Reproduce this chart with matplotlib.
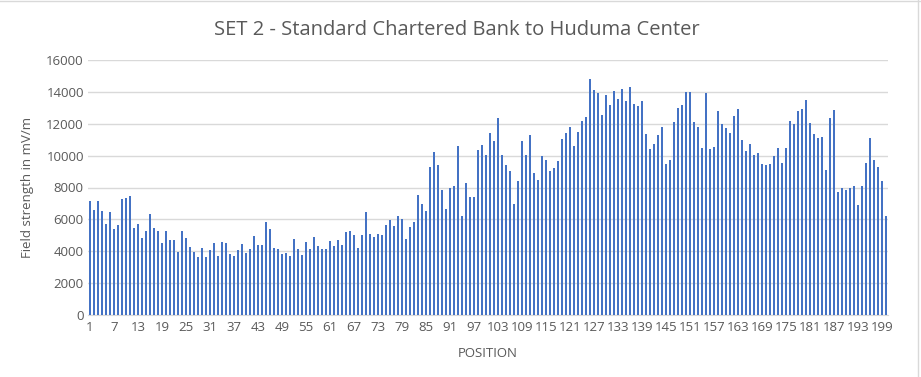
import matplotlib
matplotlib.use("Agg")
import matplotlib.pyplot as plt
from matplotlib.lines import Line2D

positions = list(range(1, 201))
field_strength = [
    7130, 6560, 7130, 6520, 5680, 6460, 5390, 5620, 7250, 7340,
    7480, 5470, 5680, 4820, 5280, 6310, 5470, 5240, 4490, 5240,
    4680, 4680, 3980, 5240, 4840, 4280, 3980, 3670, 4190, 3630,
    4050, 4490, 3730, 4550, 4510, 3840, 3690, 4050, 4440, 3860,
    4110, 4930, 4420, 4380, 5850, 5390, 4210, 4110, 3820, 3900,
    3730, 4760, 4150, 3790, 4550, 4110, 4880, 4300, 4150, 4110,
    4630, 4360, 4680, 4420, 5180, 5280, 4990, 4210, 4990, 6440,
    5090, 4910, 5090, 5050, 5660, 5930, 5600, 6210, 6000, 4800,
    5510, 5850, 7550, 6940, 6500, 9290, 10210, 9430, 7860, 6620,
    7970, 8070, 10590, 6230, 8300, 7400, 7400, 10380, 10650, 10020,
    11400, 10940, 12390, 10020, 9390, 9040, 6940, 8410, 10900, 10020,
    11300, 8930, 8490, 9960, 9750, 9040, 9220, 9660, 11040, 11440,
    11800, 10600, 11500, 12180, 12410, 14820, 14130, 13920, 12550, 13830,
    13180, 14040, 13560, 14170, 13410, 14290, 13220, 13140, 13430, 11340,
    10420, 10730, 11320, 11800, 9490, 9720, 12130, 12990, 13160, 13980,
    13980, 12110, 11780, 10480, 13900, 10390, 10540, 12830, 11990, 11760,
    11400, 12510, 12910, 10980, 10310, 10710, 10060, 10140, 9490, 9410,
    9470, 9970, 10480, 9530, 10480, 12150, 11990, 12830, 12910, 13500,
    12050, 11360, 11090, 11150, 9070, 12360, 12870, 7730, 8000, 7840,
    7960, 8070, 6930, 8090, 9510, 11090, 9720, 9280, 8420, 6240,
]
x_tick_labels = list(range(1, 201, 6))
y_ticks = list(range(0, 16001, 2000))

title = "SET 2 - Standard Chartered Bank to Huduma Center"
x_label = "POSITION"
y_label = "Field strength in mV/m"

plt.rcParams['font.family'] = ['Open Sans', 'DejaVu Sans']
grey = '#595959'

fig = plt.figure(figsize=(9.21, 3.77), dpi=100)
ax = fig.add_axes([88/921, 62/377, 800/921, 255/377])

ax.bar(positions, field_strength, width=0.42, color='#4472C4', zorder=3)

ax.set_xlim(0.5, 200.5)
ax.set_ylim(0, 16000)
ax.set_yticks(y_ticks)
ax.set_yticklabels([str(v) for v in y_ticks])
ax.set_xticks(x_tick_labels)
ax.set_xticklabels([str(v) for v in x_tick_labels])
ax.tick_params(axis='both', length=0, colors=grey, labelsize=9.5)
ax.tick_params(axis='x', pad=4)
ax.tick_params(axis='y', pad=3)

ax.grid(axis='y', color='#d9d9d9', linewidth=1, zorder=0)
for s in ['top', 'right', 'left']:
    ax.spines[s].set_visible(False)
ax.spines['bottom'].set_color('#d9d9d9')

ax.set_xlabel(x_label, color=grey, fontsize=9.5, labelpad=10)
ax.set_ylabel(y_label, color=grey, fontsize=9.5, labelpad=9)
fig.text(457/921, 1 - 30/377, title, ha='center', va='center', color=grey, fontsize=14.5)

# screenshot frame edges
fig.add_artist(Line2D([0, 1], [1 - 1/377, 1 - 1/377], transform=fig.transFigure, color='#d9d9d9', lw=1))
fig.add_artist(Line2D([918/921, 918/921], [0, 1], transform=fig.transFigure, color='#d9d9d9', lw=1))

fig.savefig('out.png', dpi=100)
